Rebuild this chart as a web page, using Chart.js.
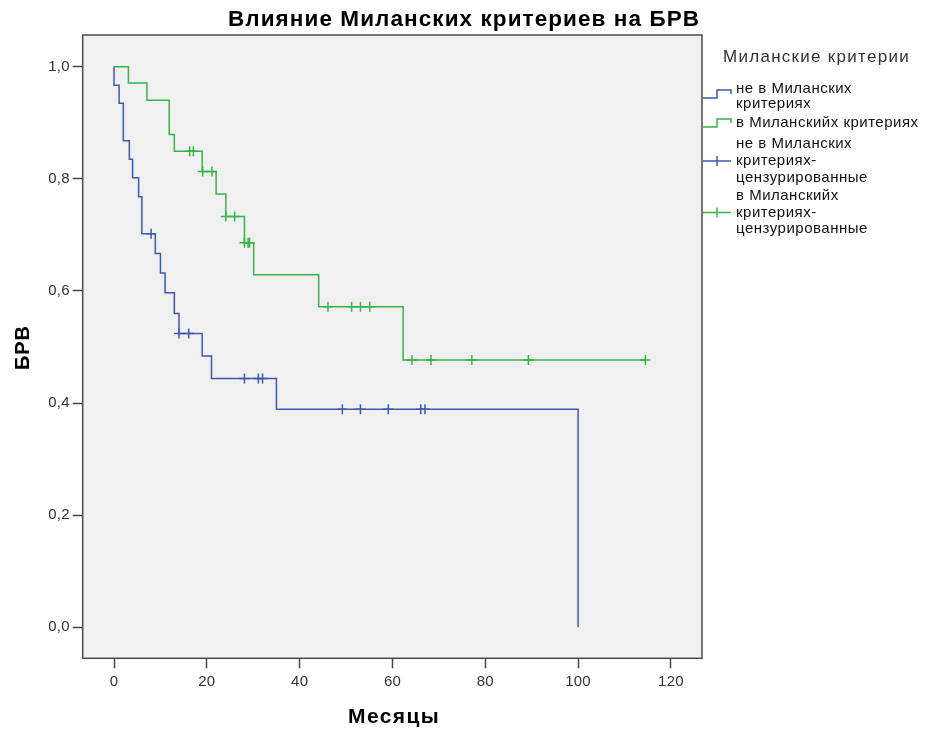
<!DOCTYPE html>
<html><head><meta charset="utf-8">
<script src="https://cdn.jsdelivr.net/npm/chart.js@4.4.0/dist/chart.umd.min.js"></script>
<style>html,body{margin:0;padding:0;background:#fff;overflow:hidden}canvas{display:block}</style>
</head><body>
<canvas id="c" width="933" height="729"></canvas>
<script>
// ---- texts ----
const chartTitle = 'Влияние Миланских критериев на БРВ';
const xAxisTitle = 'Месяцы';
const yAxisTitle = 'БРВ';
const legendTitle = 'Миланские критерии';
const seriesNames = ['не в Миланских критериях', 'в Миланскийх критериях',
  'не в Миланских критериях-цензурированные', 'в Миланскийх критериях-цензурированные'];
const legendLines = [['не в Миланских', 'критериях'], ['в Миланскийх критериях'],
  ['не в Миланских', 'критериях-', 'цензурированные'], ['в Миланскийх', 'критериях-', 'цензурированные']];

// ---- ticks ----
const xTickValues = [0, 20, 40, 60, 80, 100, 120];
const xTickLabels = ['0', '20', '40', '60', '80', '100', '120'];
const yTickValues = [0, 0.2, 0.4, 0.6, 0.8, 1.0];
const yTickLabels = ['0,0', '0,2', '0,4', '0,6', '0,8', '1,0'];

// ---- survival curve: not within Milan criteria (blue) ----
const blueTimes = [0, 0, 1.1, 2.0, 3.3, 4.0, 5.3, 6.0, 8.9, 10.0, 11.0, 13.0, 14.0, 19.0, 21.0, 35.0, 100.0];
const blueSurv  = [1.0, 0.967, 0.935, 0.868, 0.835, 0.802, 0.768, 0.702, 0.667, 0.632, 0.597, 0.560, 0.524, 0.484, 0.444, 0.389, 0.0];
const blueCensorTimes = [8.0, 14.0, 16.1, 28.1, 31.1, 32.0, 49.2, 53.1, 59.1, 66.1, 67.0];
const blueCensorSurv  = [0.702, 0.524, 0.524, 0.444, 0.444, 0.444, 0.389, 0.389, 0.389, 0.389, 0.389];

// ---- survival curve: within Milan criteria (green) ----
const greenTimes = [0, 3.1, 7.1, 11.9, 13.0, 19.0, 22.0, 24.1, 28.1, 30.1, 44.1, 62.3, 114.5];
const greenSurv  = [1.0, 0.971, 0.940, 0.879, 0.849, 0.813, 0.773, 0.733, 0.686, 0.629, 0.572, 0.477, 0.477];
const greenCensorTimes = [16.3, 17.1, 19.1, 21.1, 24.1, 26.0, 28.1, 28.9, 29.2, 46.1, 51.2, 53.1, 55.1, 64.2, 68.3, 77.1, 89.3, 114.5];
const greenCensorSurv  = [0.849, 0.849, 0.813, 0.813, 0.733, 0.733, 0.686, 0.686, 0.686, 0.572, 0.572, 0.572, 0.572, 0.477, 0.477, 0.477, 0.477, 0.477];

const BLUE = '#3E58AC';
const GREEN = '#35B44A';
const FONT = '"Liberation Sans", Arial, sans-serif';

const pts = (xs, ys) => xs.map((x, i) => ({x: x, y: ys[i]}));

function drawFitted(ctx, text, x, y, targetW, align) {
  ctx.letterSpacing = '0px';
  const w = ctx.measureText(text).width;
  const n = [...text].length;
  const sp = targetW ? Math.max(0, (targetW - w) / n) : 0;
  ctx.letterSpacing = sp.toFixed(2) + 'px';
  ctx.textAlign = align || 'left';
  ctx.fillText(text, x, y);
  ctx.letterSpacing = '0px';
}

const decor = {
  id: 'decor',
  beforeDraw(chart) {
    const {ctx, chartArea: a} = chart;
    ctx.save();
    ctx.fillStyle = '#ffffff';
    ctx.fillRect(0, 0, chart.width, chart.height);
    ctx.fillStyle = '#f0f0f0';
    ctx.fillRect(a.left, a.top, a.right - a.left, a.bottom - a.top);
    ctx.restore();
    ctx.letterSpacing = '0.2px';
  },
  afterDraw(chart) {
    const {ctx, chartArea: a} = chart;
    ctx.save();
    // frame
    ctx.strokeStyle = '#4a4a4a';
    ctx.lineWidth = 1.5;
    ctx.strokeRect(a.left, a.top, a.right - a.left, a.bottom - a.top);
    // titles
    ctx.fillStyle = '#000';
    ctx.textBaseline = 'middle';
    ctx.font = 'bold 22.5px ' + FONT;
    drawFitted(ctx, chartTitle, 228, 19.5, 472, 'left');
    ctx.font = 'bold 21px ' + FONT;
    drawFitted(ctx, xAxisTitle, 348, 717, 92, 'left');
    ctx.save();
    ctx.translate(23, 370);
    ctx.rotate(-Math.PI / 2);
    ctx.font = 'bold 20px ' + FONT;
    drawFitted(ctx, yAxisTitle, 0, 0, 45, 'left');
    ctx.restore();
    // legend
    ctx.fillStyle = '#333';
    ctx.font = '17px ' + FONT;
    drawFitted(ctx, legendTitle, 723, 57, 187, 'left');
    ctx.fillStyle = '#111';
    ctx.font = '15px ' + FONT;
    const lineYs = [[89, 103.5], [123], [144, 161, 178], [196, 212.5, 229]];
    legendLines.forEach((lines, i) => {
      lines.forEach((t, j) => {
        ctx.letterSpacing = '0.5px';
        ctx.textAlign = 'left';
        ctx.fillText(t, 736, lineYs[i][j]);
      });
    });
    ctx.letterSpacing = '0px';
    ctx.lineWidth = 1.5;
    // step icons
    const step = (color, y) => {
      ctx.strokeStyle = color;
      ctx.beginPath();
      ctx.moveTo(703, y + 4); ctx.lineTo(717, y + 4); ctx.lineTo(717, y - 4);
      ctx.lineTo(731, y - 4); ctx.lineTo(731, y);
      ctx.stroke();
    };
    step(BLUE, 94);
    step(GREEN, 123);
    const cross = (color, y) => {
      ctx.strokeStyle = color;
      ctx.beginPath();
      ctx.moveTo(703, y); ctx.lineTo(731, y);
      ctx.moveTo(717, y - 5); ctx.lineTo(717, y + 5);
      ctx.stroke();
    };
    cross(BLUE, 161);
    cross(GREEN, 212.5);
    ctx.restore();
  }
};

const tickFont = {family: FONT, size: 15};

new Chart(document.getElementById('c'), {
  type: 'line',
  data: {
    datasets: [
      {label: seriesNames[0], data: pts(blueTimes, blueSurv), stepped: 'before', borderColor: BLUE, borderWidth: 1.5, pointRadius: 0, fill: false},
      {label: seriesNames[1], data: pts(greenTimes, greenSurv), stepped: 'before', borderColor: GREEN, borderWidth: 1.5, pointRadius: 0, fill: false},
      {label: seriesNames[2], data: pts(blueCensorTimes, blueCensorSurv), showLine: false, pointStyle: 'cross', pointRadius: 5, borderColor: BLUE, pointBorderWidth: 1.5},
      {label: seriesNames[3], data: pts(greenCensorTimes, greenCensorSurv), showLine: false, pointStyle: 'cross', pointRadius: 5, borderColor: GREEN, pointBorderWidth: 1.5}
    ]
  },
  options: {
    responsive: false,
    animation: false,
    devicePixelRatio: 1,
    layout: {padding: {top: 35, right: 231, left: 0, bottom: 0}},
    plugins: {legend: {display: false}, title: {display: false}, tooltip: {enabled: false}},
    scales: {
      x: {
        type: 'linear', min: -6.75, max: 126.7,
        afterFit(s) { s.height = 70.7; },
        afterBuildTicks(s) { s.ticks = xTickValues.map(v => ({value: v})); },
        ticks: {font: tickFont, color: '#333', padding: 5, maxRotation: 0,
          callback: (v) => xTickLabels[xTickValues.indexOf(v)]},
        grid: {drawOnChartArea: false, drawTicks: true, tickLength: 10, tickColor: '#444', tickWidth: 1.5},
        border: {display: false}
      },
      y: {
        type: 'linear', min: -0.0553, max: 1.0566,
        afterFit(s) { s.width = 82.7; },
        afterBuildTicks(s) { s.ticks = yTickValues.map(v => ({value: v})); },
        ticks: {font: tickFont, color: '#333', padding: 3,
          callback: (v) => yTickLabels[yTickValues.findIndex(t => Math.abs(t - v) < 1e-9)]},
        grid: {drawOnChartArea: false, drawTicks: true, tickLength: 10, tickColor: '#444', tickWidth: 1.5},
        border: {display: false}
      }
    }
  },
  plugins: [decor]
});
</script>
</body></html>
